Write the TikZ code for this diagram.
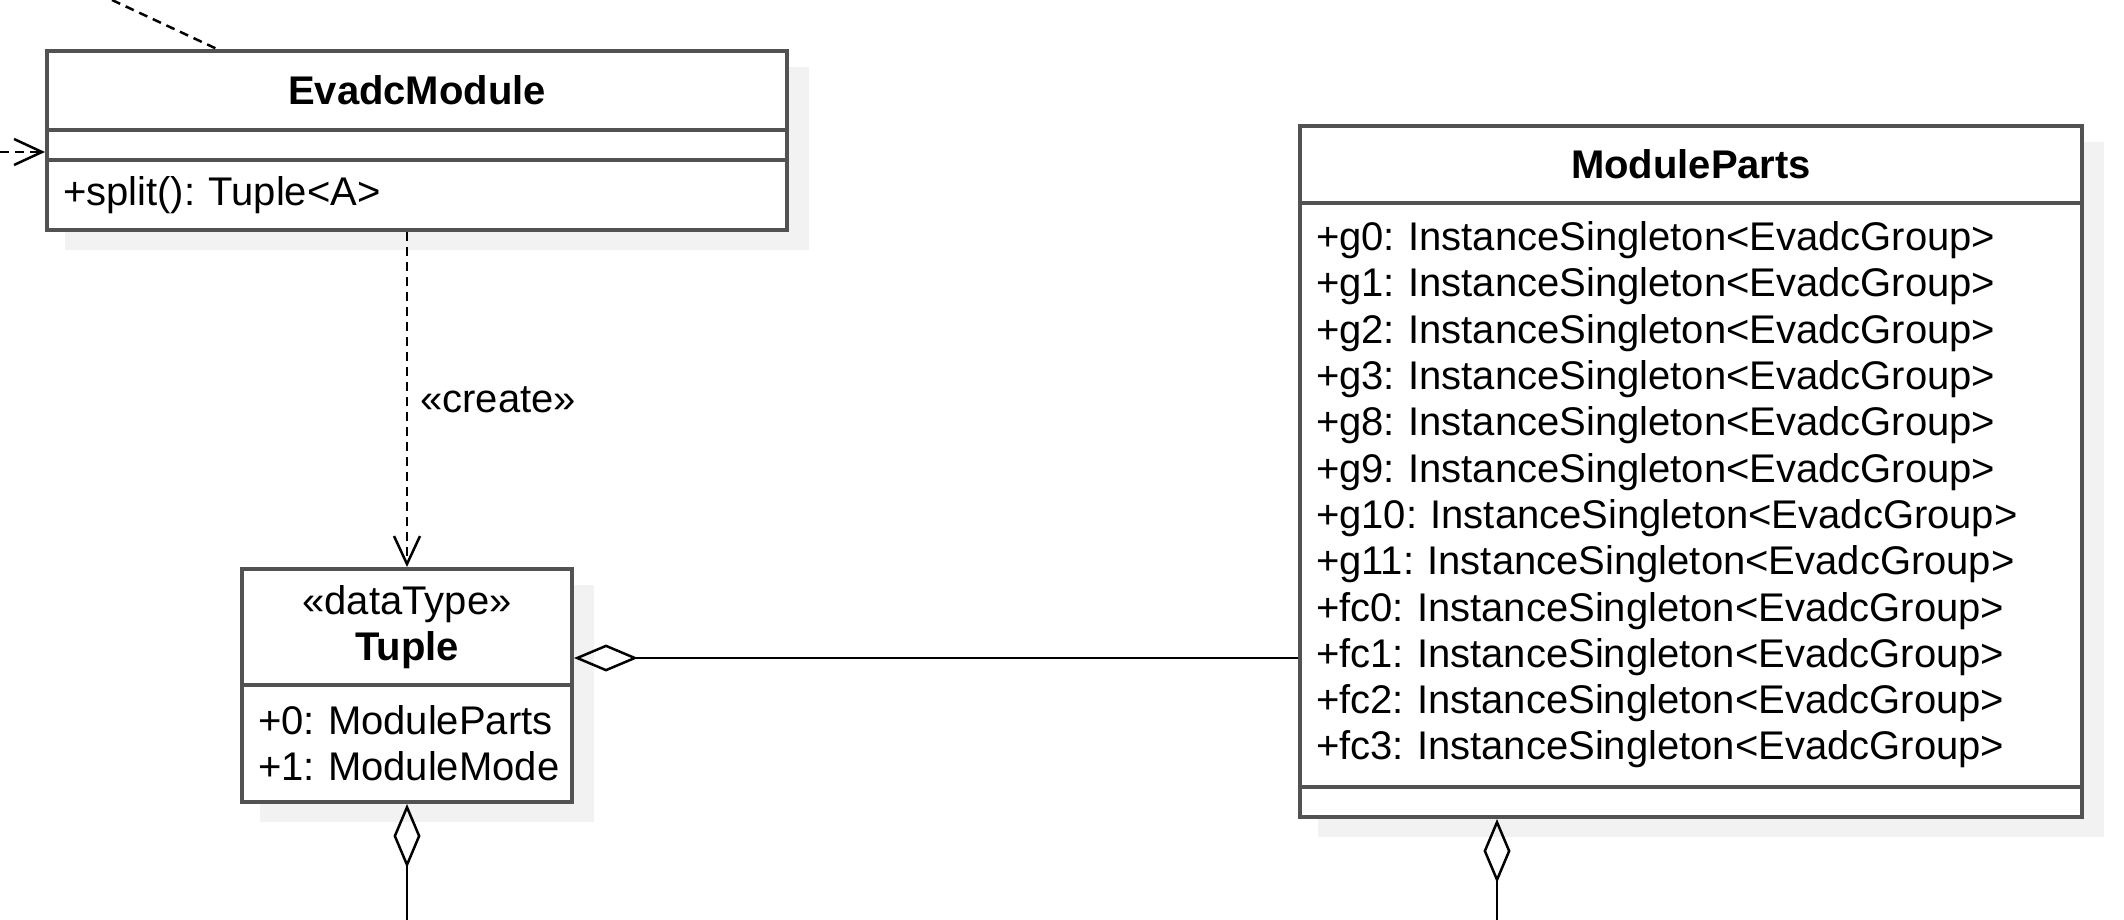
\documentclass[tikz,border=0pt]{standalone}
\usepackage{fontspec}
\setmainfont{Liberation Sans}
\usetikzlibrary{arrows.meta,backgrounds}
\newcommand{\umlfont}{\fontsize{40}{46.3}\selectfont\frenchspacing\hyphenpenalty=10000\relax}

\begin{document}
\begin{tikzpicture}[x=1pt,y=-1pt]
%%%%%%%%%%%%%%%%%%%%%%%%%%%%%%%%%%%%%%%%%%%%%%%%%%%%%%%%
% STYLE
\tikzstyle{case}=[rectangle,draw=black!68,line width=4pt,fill=white,inner xsep=16pt,inner ysep=0pt,font=\umlfont]
\tikzstyle{head}=[case,align=center]
\tikzstyle{attr}=[case,align=left]
\tikzstyle{boxshade}=[fill=black!5]

\tikzset{dep/.style={-{Straight Barb[length=28pt,width=26pt]},line width=2.5pt,dash pattern=on 9pt off 6pt}}
\tikzset{agg/.style={-{Diamond[open,length=64pt,width=27pt]},line width=2.5pt}}

\useasboundingbox (0,0) rectangle (2124,920);

%%%%%%%%%%%%%%%%%%%%%%%%%%%%%%%%%%%%%%%%%%%%%%%%%%%%%%%%
% NODES
\node[head,minimum width=740pt,minimum height=79pt] (EM0) at (417,90.5) {\textbf{EvadcModule}};
\node[case,minimum width=740pt,minimum height=30pt] (EM1) at (417,145) {};
\node[attr,text width=708pt,minimum height=70pt] (EM2) at (417,195) {+split(): Tuple<A>};

\node[head,minimum width=330pt,minimum height=116pt] (TP0) at (407,627) {«dataType»\\\textbf{Tuple}};
\node[attr,text width=298pt,minimum height=117pt] (TP1) at (407,743.5) {\mbox{+0: ModuleParts}\\\mbox{+1: ModuleMode}};

\node[head,minimum width=782pt,minimum height=77pt] (MP0) at (1691,164.5) {\textbf{ModuleParts}};
\node[attr,text width=750pt,minimum height=584pt] (MP1) at (1691,495) {%
+g0: InstanceSingleton<EvadcGroup>\\
+g1: InstanceSingleton<EvadcGroup>\\
+g2: InstanceSingleton<EvadcGroup>\\
+g3: InstanceSingleton<EvadcGroup>\\
+g8: InstanceSingleton<EvadcGroup>\\
+g9: InstanceSingleton<EvadcGroup>\\
+g10: InstanceSingleton<EvadcGroup>\\
+g11: InstanceSingleton<EvadcGroup>\\
+fc0: InstanceSingleton<EvadcGroup>\\
+fc1: InstanceSingleton<EvadcGroup>\\
+fc2: InstanceSingleton<EvadcGroup>\\
+fc3: InstanceSingleton<EvadcGroup>};
\node[case,minimum width=782pt,minimum height=30pt] (MP2) at (1691,802) {};

\begin{scope}[on background layer]
\fill[boxshade] ([shift={(20pt,-18pt)}]EM0.north west) rectangle ([shift={(20pt,-18pt)}]EM2.south east);
\fill[boxshade] ([shift={(20pt,-18pt)}]TP0.north west) rectangle ([shift={(20pt,-18pt)}]TP1.south east);
\fill[boxshade] ([shift={(20pt,-18pt)}]MP0.north west) rectangle ([shift={(20pt,-18pt)}]MP2.south east);
\end{scope}

%%%%%%%%%%%%%%%%%%%%%%%%%%%%%%%%%%%%%%%%%%%%%%%%%%%%%%%%
% LINKS
\coordinate (TL) at (112,0);
\coordinate (LA) at (0,152);
\coordinate (AG) at ([yshift=-31pt]TP0.east);
\coordinate (B1) at (407,920);
\coordinate (B2) at (1497,920);

\draw[line width=2.5pt,dash pattern=on 9pt off 6pt] (TL) -- ([xshift=172pt]EM0.north west);
\draw[dep] (LA) -- (LA -| EM1.west);
\draw[dep] (EM2.south -| TP0.north) -- (TP0.north) node[midway,right=10pt,inner sep=2pt,font=\umlfont] {«create»};
\draw[agg] (AG -| MP1.west) -- (AG);
\draw[agg] (B1) -- (TP1.south);
\draw[agg] (B2) -- (B2 |- MP2.south);

\end{tikzpicture}
\end{document}
